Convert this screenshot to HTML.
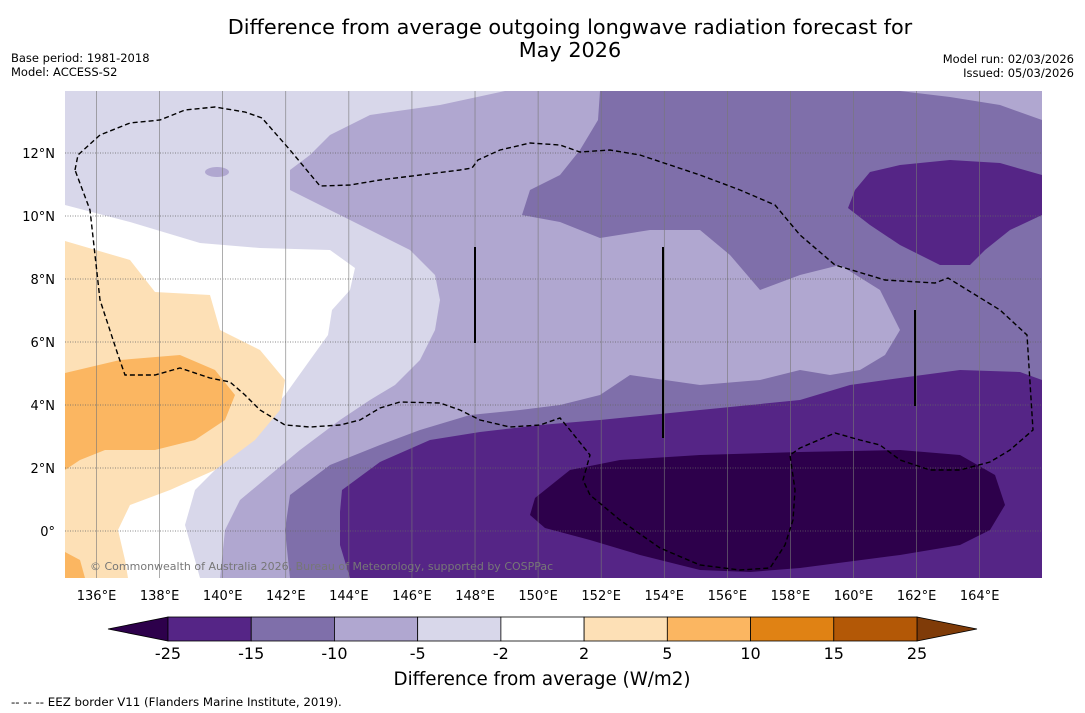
<!DOCTYPE html>
<html><head><meta charset="utf-8"><style>
body{margin:0;background:#fff;width:1085px;height:713px;overflow:hidden;font-family:"DejaVu Sans","Liberation Sans",sans-serif;}
svg{position:absolute;left:0;top:0}
</style></head><body>
<svg id="chart" width="1085" height="713">
<text x="570" y="34" text-anchor="middle" font-size="20.8">Difference from average outgoing longwave radiation forecast for</text>
<text x="570" y="57" text-anchor="middle" font-size="20.8">May 2026</text>
<text x="11" y="62" font-size="11.5">Base period: 1981-2018</text>
<text x="11" y="76" font-size="11.5">Model: ACCESS-S2</text>
<text x="1074" y="63" font-size="11.5" text-anchor="end">Model run: 02/03/2026</text>
<text x="1074" y="77" font-size="11.5" text-anchor="end">Issued: 05/03/2026</text>
<defs><clipPath id="mc"><rect x="65" y="91" width="977" height="487"/></clipPath></defs>
<g clip-path="url(#mc)">
<rect x="65" y="91" width="977" height="487" fill="#d8d7ea"/>
<polygon fill="#ffffff" points="65,205 130,222 200,243 260,248 330,250 355,268 350,290 332,310 328,335 310,360 285,395 255,430 225,460 195,490 185,525 195,560 200,578 65,578"/>
<polygon fill="#fde0b6" points="65,241 130,260 155,292 210,295 220,330 260,350 285,380 280,410 255,440 215,470 170,490 130,505 118,530 125,560 128,578 65,578"/>
<polygon fill="#fbb661" points="65,373 120,360 180,355 215,370 235,395 225,420 195,440 155,450 105,450 80,460 65,470"/>
<polygon fill="#fbb661" points="65,552 80,560 85,578 65,578"/>
<ellipse cx="217" cy="172" rx="12" ry="5" fill="#b0a7d0"/>
<polygon fill="#b0a7d0" points="505,91 440,105 370,115 330,135 310,155 290,170 290,190 330,210 370,230 410,250 435,275 440,300 435,330 420,360 395,385 370,400 340,420 300,450 270,475 240,500 225,530 220,578 1042,578 1042,91"/>
<polygon fill="#7f6faa" points="600,91 598,120 580,150 560,175 530,190 522,215 560,222 600,238 650,230 700,230 730,255 760,290 800,275 840,265 880,290 900,330 885,355 860,370 830,375 800,370 760,380 700,385 630,375 600,395 560,405 520,410 470,415 420,430 380,445 330,465 290,495 285,530 290,578 1042,578 1042,120 1000,105 950,97 900,91"/>
<polygon fill="#552586" points="342,490 380,462 430,440 480,432 540,425 600,420 700,410 800,400 850,385 900,378 960,370 1020,372 1042,380 1042,578 350,578 340,545 340,512"/>
<polygon fill="#552586" points="870,172 900,165 950,160 1000,163 1042,175 1042,215 1010,230 985,250 970,265 940,265 900,245 870,225 848,208 855,190"/>
<polygon fill="#2d004b" points="535,498 570,470 620,460 700,455 800,452 900,450 960,455 995,475 1005,505 990,530 960,545 900,555 800,568 750,572 700,570 640,555 590,540 545,528 530,515"/>
<g id="grid"></g>
<g stroke="#000" stroke-width="2">
<line x1="475" y1="247" x2="475" y2="343"/>
<line x1="663" y1="247" x2="663" y2="438"/>
<line x1="915" y1="310" x2="915" y2="406"/>
</g>
<polyline fill="none" stroke="#000" stroke-width="1.4" stroke-dasharray="5,3" points="75,170 78,155 100,135 130,123 160,120 185,110 215,107 245,112 262,118 290,150 320,186 350,185 380,180 420,175 460,170 472,168 478,160 500,150 530,143 560,145 580,152 610,150 640,155 670,165 700,175 740,190 775,205 800,235 835,265 885,280 935,283 948,278 1000,310 1027,335 1033,430 1010,450 990,462 960,470 930,470 900,460 880,445 860,440 835,433 800,448 790,455 795,490 793,520 785,545 770,568 740,570 700,565 660,548 620,520 590,495 583,480 590,455 570,430 560,418 540,425 510,427 480,420 460,410 440,403 400,402 380,408 360,420 340,425 310,427 285,425 260,410 245,395 230,382 210,378 180,368 155,375 125,375 118,355 100,300 95,255 90,210 75,170"/>
<text x="90" y="570" font-size="11" fill="#777">© Commonwealth of Australia 2026, Bureau of Meteorology, supported by COSPPac</text>
</g>
<g id="axes"></g>
<g id="cbar"></g>
<text x="542" y="685" text-anchor="middle" font-size="18.3">Difference from average (W/m2)</text>
<text x="11" y="706" font-size="11.8">--  --  -- EEZ border V11 (Flanders Marine Institute, 2019).</text>
</svg>
<script>
const lonTicks=[136,138,140,142,144,146,148,150,152,154,156,158,160,162,164];
const latTicks=[0,2,4,6,8,10,12];
const cbLevels=[-25,-15,-10,-5,-2,2,5,10,15,25];
const cbColors=["#552586","#7f6faa","#b0a7d0","#d8d7ea","#ffffff","#fde0b6","#fbb661","#e08214","#b35806"];
const NS="http://www.w3.org/2000/svg";
function xLon(l){return 65+(l-135)*31.54;}
function yLat(a){return 531-a*31.5;}
function mk(t,attrs,parent,txt){const e=document.createElementNS(NS,t);for(const k in attrs)e.setAttribute(k,attrs[k]);if(txt!==undefined)e.textContent=txt;parent.appendChild(e);return e;}
const grid=document.getElementById('grid'),axes=document.getElementById('axes'),cb=document.getElementById('cbar');
lonTicks.forEach(l=>{
 const ln=mk('line',{x1:xLon(l),x2:xLon(l),y1:91,y2:578,stroke:'#777','stroke-width':0.6},grid);
 
 
 const t=mk('text',{x:xLon(l),y:600,'text-anchor':'middle','font-size':13},axes,l+'°E');
 
 
});
latTicks.forEach(a=>{
 const ln=mk('line',{x1:65,x2:1042,y1:yLat(a),y2:yLat(a),stroke:'#666','stroke-width':0.7,'stroke-dasharray':'1,1.5'},grid);
 
 
 const t=mk('text',{x:55,y:yLat(a)+5,'text-anchor':'end','font-size':13},axes,a===0?'0°':a+'°N');
 
 
});
const cbX0=168,cbX1=917,cbY=617,cbH=24,seg=(cbX1-cbX0)/cbColors.length;
const lt=mk('polygon',{points:`108,${cbY+cbH/2} ${cbX0},${cbY} ${cbX0},${cbY+cbH}`,fill:'#2d004b',stroke:'#000','stroke-width':0.8},cb);


const rt=mk('polygon',{points:`977,${cbY+cbH/2} ${cbX1},${cbY} ${cbX1},${cbY+cbH}`,fill:'#7f3b08',stroke:'#000','stroke-width':0.8},cb);


cbColors.forEach((c,i)=>{
 const r=mk('rect',{x:cbX0+i*seg,y:cbY,width:seg,height:cbH,fill:c,stroke:'#000','stroke-width':0.8},cb);
 
 
});
cbLevels.forEach((v,i)=>{
 const t=mk('text',{x:cbX0+i*seg,y:659,'text-anchor':'middle','font-size':16},cb,String(v));
 
 
});
</script>
</body></html>
